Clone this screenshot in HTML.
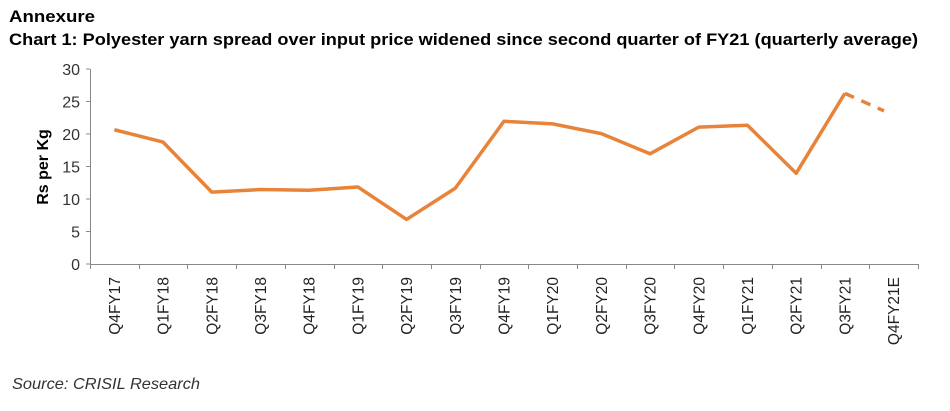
<!DOCTYPE html>
<html><head><style>
body{margin:0;background:#fff;width:950px;height:406px;overflow:hidden;font-family:"Liberation Sans",sans-serif}
</style></head><body>
<svg width="950" height="406" xmlns="http://www.w3.org/2000/svg" font-family="Liberation Sans, sans-serif">
<text x="9" y="22" font-size="17" font-weight="bold" fill="#000" textLength="86" lengthAdjust="spacingAndGlyphs">Annexure</text>
<text x="9" y="45" font-size="17" font-weight="bold" fill="#000" textLength="909" lengthAdjust="spacingAndGlyphs">Chart 1: Polyester yarn spread over input price widened since second quarter of FY21 (quarterly average)</text>
<text x="12" y="389" font-size="16" font-style="italic" fill="#333" textLength="188" lengthAdjust="spacingAndGlyphs">Source: CRISIL Research</text>
<g stroke="#888" stroke-width="1">
<line x1="90.5" y1="69" x2="90.5" y2="264.5"/>
<line x1="90" y1="264.5" x2="918" y2="264.5"/>
<line x1="86" y1="69" x2="90" y2="69"/><line x1="86" y1="101.5" x2="90" y2="101.5"/><line x1="86" y1="134" x2="90" y2="134"/><line x1="86" y1="166.5" x2="90" y2="166.5"/><line x1="86" y1="199" x2="90" y2="199"/><line x1="86" y1="231.5" x2="90" y2="231.5"/><line x1="86" y1="264" x2="90" y2="264"/>
</g>
<g id="xt" stroke="#888"></g>
<g font-size="16" fill="#333" text-anchor="end">
<text x="80" y="75">30</text><text x="80" y="107.5">25</text><text x="80" y="140">20</text><text x="80" y="172.5">15</text><text x="80" y="205">10</text><text x="80" y="237.5">5</text><text x="80" y="270">0</text>
</g>
<text transform="translate(48,167) rotate(-90)" text-anchor="middle" font-size="16" font-weight="bold" fill="#000">Rs per Kg</text>
<g id="xl" font-size="15.5" fill="#222" text-anchor="end"></g>
<polyline id="ln" fill="none" stroke="#E8833A" stroke-width="3.5" stroke-linejoin="round"/>
<polyline id="dl" fill="none" stroke="#E8833A" stroke-width="3.5" stroke-dasharray="10,8"/>
<script>
var labs=["Q4FY17","Q1FY18","Q2FY18","Q3FY18","Q4FY18","Q1FY19","Q2FY19","Q3FY19","Q4FY19","Q1FY20","Q2FY20","Q3FY20","Q4FY20","Q1FY21","Q2FY21","Q3FY21","Q4FY21E"];
var d=[20.7,18.8,11.1,11.5,11.4,11.9,6.9,11.7,22.0,21.6,20.1,17.0,21.1,21.4,14.0,26.3];
var sp=48.7,x0=90,ns="http://www.w3.org/2000/svg";
function X(i){return x0+sp/2+sp*i}function Y(v){return 264.3-v*6.5}
var xt=document.getElementById("xt"),xl=document.getElementById("xl");
for(var i=0;i<=17;i++){var l=document.createElementNS(ns,"line");var xx=Math.round(x0+sp*i)+0.5;l.setAttribute("x1",xx);l.setAttribute("x2",xx);l.setAttribute("y1",264);l.setAttribute("y2",269);xt.appendChild(l);}
labs.forEach(function(s,i){var t=document.createElementNS(ns,"text");t.setAttribute("transform","translate("+(X(i)+5.5)+",277) rotate(-90)");t.textContent=s;xl.appendChild(t);});
document.getElementById("ln").setAttribute("points",d.map(function(v,i){return X(i)+","+Y(v)}).join(" "));
document.getElementById("dl").setAttribute("points",X(15)+","+Y(26.3)+" 884,"+Y(23.6));
</script>
</svg>
</body></html>
